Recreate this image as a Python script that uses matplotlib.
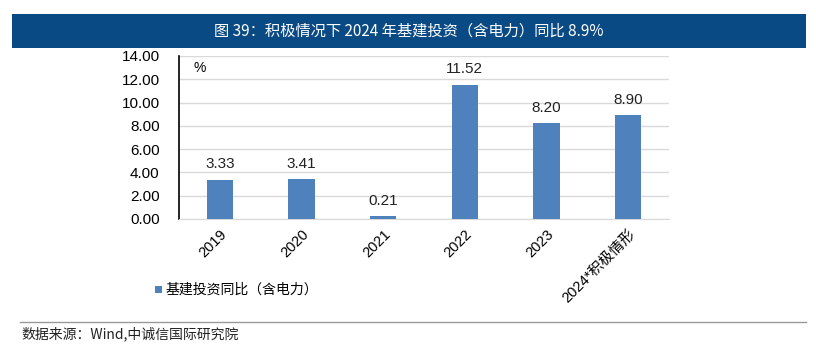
import numpy as np
import matplotlib.pyplot as plt
from matplotlib.patches import Rectangle
from matplotlib.lines import Line2D

plt.rcParams['font.family'] = ['Noto Sans CJK SC', 'DejaVu Sans']
num_font = ['Liberation Sans', 'Noto Sans CJK SC']

categories = ['2019', '2020', '2021', '2022', '2023', '2024*积极情形']
values = [3.33, 3.41, 0.21, 11.52, 8.20, 8.90]
yticks = [0, 2, 4, 6, 8, 10, 12, 14]
title = '图 39：积极情况下 2024 年基建投资（含电力）同比 8.9%'
legend_label = '基建投资同比（含电力）'
source = '数据来源：Wind,中诚信国际研究院'

bar_color = '#4f81bd'

fig = plt.figure(figsize=(8.16, 3.52), dpi=100)

# title banner
fig.patches.append(Rectangle((0.0147, 0.864), 0.973, 0.096, transform=fig.transFigure,
                             facecolor='#0a4a84', edgecolor='none', zorder=0))
fig.text(0.501, 0.912, title, color='white', fontsize=11, ha='center', va='center')

ax = fig.add_axes([0.2194, 0.378, 0.6005, 0.463])
x = np.arange(len(categories))
ax.bar(x, values, width=0.32, color=bar_color, zorder=3)
for xi, v in zip(x, values):
    ax.text(xi, v + 0.75, f'{v:.2f}', ha='center', va='bottom', fontsize=11,
            color='#222222', family=num_font)

ax.set_xlim(-0.5, len(categories) - 0.5)
ax.set_ylim(0, 14)
ax.set_yticks(yticks)
ax.set_yticklabels([f'{t:.2f}' for t in yticks], fontsize=11, family=num_font)
ax.set_xticks(x)
ax.set_xticklabels(categories, rotation=45, ha='right', rotation_mode='anchor',
                   fontsize=10.5, family=num_font)
ax.tick_params(axis='both', length=0)
ax.tick_params(axis='y', pad=14)
ax.tick_params(axis='x', pad=6)
ax.grid(axis='y', color='#d9d9d9', linewidth=1, zorder=0)
ax.set_axisbelow(True)
for s in ['top', 'right']:
    ax.spines[s].set_visible(False)
ax.spines['bottom'].set_color('#d9d9d9')
ax.spines['left'].set_color('black')
ax.spines['left'].set_linewidth(1.2)
ax.text(0.03, 0.97, '%', transform=ax.transAxes, ha='left', va='top', fontsize=10,
        family=num_font)

# legend
fig.patches.append(Rectangle((0.1905, 0.168), 0.0085, 0.02, transform=fig.transFigure,
                             facecolor=bar_color, edgecolor='none'))
fig.text(0.203, 0.177, legend_label, fontsize=10, va='center', ha='left')

# source line
fig.lines.append(Line2D([0.024, 0.988], [0.085, 0.085], transform=fig.transFigure,
                        color='#999999', linewidth=1))
fig.text(0.026, 0.052, source, fontsize=10, va='center', ha='left', color='#222222')

fig.savefig('out.png', dpi=100)
